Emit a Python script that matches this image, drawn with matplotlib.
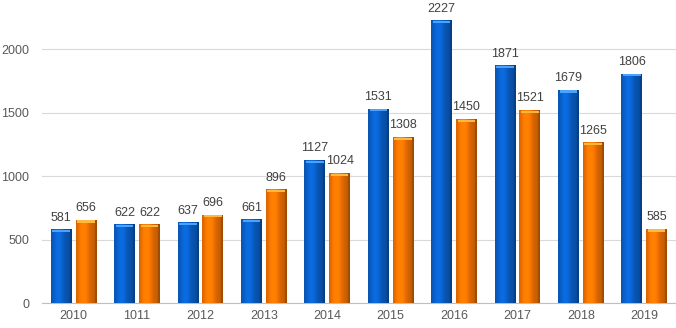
import numpy as np
import matplotlib
matplotlib.use("Agg")
import matplotlib.pyplot as plt
from matplotlib.colors import to_rgb

plt.rcParams["font.family"] = ["Liberation Sans", "DejaVu Sans"]

years = ["2010", "1011", "2012", "2013", "2014", "2015", "2016", "2017", "2018", "2019"]
blue_vals = [581, 622, 637, 661, 1127, 1531, 2227, 1871, 1679, 1806]
orange_vals = [656, 622, 696, 896, 1024, 1308, 1450, 1521, 1265, 585]

BLUE = "#0a64d2"
ORANGE = "#ff7800"


def shade_bar(ax, patch, color):
    '''Paint a cylinder-like gradient inside a bar patch.'''
    x0, y0 = patch.get_x(), patch.get_y()
    w, h = patch.get_width(), patch.get_height()
    base = np.array(to_rgb(color))
    t = np.linspace(0, 1, 40)
    # light stripe left of centre, darker edges
    k = 0.78 + 0.3 * np.exp(-((t - 0.35) / 0.28) ** 2) - 0.15 * (t > 0.9)
    row = np.clip(base[None, :] * k[:, None], 0, 1)
    img = np.repeat(row[None, :, :], 2, axis=0)
    im = ax.imshow(img, extent=(x0, x0 + w, y0, y0 + h), aspect="auto",
                   interpolation="bilinear", zorder=3)
    im.set_clip_path(patch)
    # lighter cap at the top
    ax.fill_between([x0 + w * 0.08, x0 + w * 0.92], y0 + h - 22, y0 + h - 5,
                    color=np.clip(base + 0.25, 0, 1), lw=0, zorder=4)


fig = plt.figure(figsize=(6.76, 3.28), dpi=100)
ax = fig.add_axes([0.062, 0.076, 0.938, 0.924])

x = np.arange(len(years))
w = 0.33
gap = 0.03
b1 = ax.bar(x - w / 2 - gap, blue_vals, w, color=BLUE, zorder=3)
b2 = ax.bar(x + w / 2 + gap, orange_vals, w, color=ORANGE, zorder=3)
for p in b1:
    shade_bar(ax, p, BLUE)
for p in b2:
    shade_bar(ax, p, ORANGE)

for bars, vals in ((b1, blue_vals), (b2, orange_vals)):
    for p, v in zip(bars, vals):
        ax.annotate(str(v), (p.get_x() + p.get_width() / 2, v),
                    xytext=(0, 4), textcoords="offset points",
                    ha="center", va="bottom", fontsize=9, color="#404040")

ax.set_xlim(-0.5, len(years) - 0.5)
ax.set_ylim(0, 2386)
ax.set_yticks([0, 500, 1000, 1500, 2000])
ax.set_xticks(x)
ax.set_xticklabels(years)
ax.tick_params(length=0, labelsize=9, colors="#595959")
ax.tick_params(axis="y", pad=9)
ax.tick_params(axis="x", pad=5)
ax.grid(axis="y", color="#d9d9d9", lw=0.8, zorder=0)
for s in ("top", "right", "left"):
    ax.spines[s].set_visible(False)
ax.spines["bottom"].set_color("#bfbfbf")

fig.savefig("out.png", dpi=100)
